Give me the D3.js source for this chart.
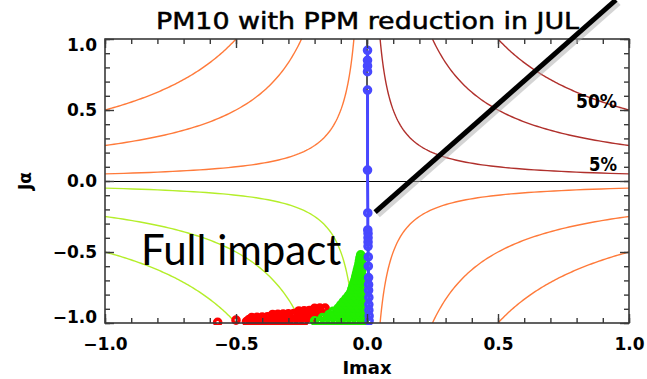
<!DOCTYPE html>
<html>
<head>
<meta charset="utf-8">
<script src="https://cdn.jsdelivr.net/npm/d3@7"></script>
<style>
  body { margin: 0; background: #fff; }
  svg { display: block; }
</style>
</head>
<body>
<svg id="chart" width="647" height="379"></svg>
<script>
// axis ticks
var majorTicks = [-1, -0.5, 0, 0.5, 1];
var minorTicks = d3.range(-10, 11).map(function(d) { return d / 10; });

// contour levels |Imax * Ja|
var levels = [0.05, 0.25, 0.5];
var levelLabels = [{level: 0.5, text: '50%', y: 0.57}, {level: 0.05, text: '5%', y: 0.13}];

// blue series (x, y)
var blueTop = [[0.002, 0.92], [0.002, 0.85], [0.002, 0.81], [0.002, 0.77]];
var blueMain = [[0.002, 0.64], [0.002, 0.077], [0.003, -0.225], [0.003, -0.345], [0.004, -0.37],
  [0.004, -0.40], [0.004, -0.43], [0.004, -0.46], [0.005, -0.535], [0.005, -0.60],
  [0.006, -0.68], [0.006, -0.73], [0.006, -0.77], [0.007, -0.82], [0.007, -0.87],
  [0.007, -0.91], [0.008, -0.95], [0.008, -0.985]];

// red series
var redPts = [[-0.57, -0.995], [-0.50, -0.98],
  [-0.46, -0.99], [-0.44, -0.99], [-0.42, -0.99], [-0.40, -0.99], [-0.38, -0.99],
  [-0.36, -0.99], [-0.34, -0.99], [-0.32, -0.99], [-0.30, -0.99], [-0.28, -0.99],
  [-0.26, -0.99], [-0.24, -0.99],
  [-0.45, -0.975], [-0.43, -0.974], [-0.41, -0.973], [-0.39, -0.972], [-0.37, -0.972],
  [-0.35, -0.971], [-0.33, -0.97], [-0.31, -0.97], [-0.29, -0.968], [-0.27, -0.968],
  [-0.25, -0.966], [-0.23, -0.966], [-0.21, -0.965],
  [-0.44, -0.962], [-0.42, -0.96], [-0.40, -0.958], [-0.38, -0.957], [-0.36, -0.956],
  [-0.34, -0.955], [-0.32, -0.954], [-0.30, -0.953], [-0.28, -0.952], [-0.26, -0.951],
  [-0.24, -0.95], [-0.22, -0.948], [-0.20, -0.947],
  [-0.36, -0.94], [-0.34, -0.938], [-0.32, -0.937], [-0.30, -0.935], [-0.28, -0.934],
  [-0.26, -0.932], [-0.24, -0.93], [-0.22, -0.93], [-0.20, -0.928], [-0.18, -0.927],
  [-0.26, -0.915], [-0.24, -0.914], [-0.22, -0.912], [-0.20, -0.91], [-0.18, -0.908], [-0.165, -0.905],
  [-0.20, -0.897], [-0.18, -0.895], [-0.16, -0.895]];

// green series
var greenPts = [
  [-0.20, -0.985], [-0.18, -0.985], [-0.16, -0.985], [-0.14, -0.985], [-0.12, -0.985], [-0.10, -0.985],
  [-0.08, -0.985], [-0.06, -0.985], [-0.04, -0.985], [-0.02, -0.985], [-0.01, -0.985],
  [-0.17, -0.962], [-0.15, -0.962], [-0.13, -0.962], [-0.11, -0.962], [-0.09, -0.962],
  [-0.07, -0.962], [-0.05, -0.962], [-0.03, -0.962], [-0.012, -0.962],
  [-0.145, -0.94], [-0.125, -0.94], [-0.105, -0.94], [-0.085, -0.94], [-0.065, -0.94],
  [-0.045, -0.94], [-0.025, -0.94], [-0.012, -0.94],
  [-0.13, -0.918], [-0.11, -0.918], [-0.09, -0.918], [-0.07, -0.918], [-0.05, -0.918], [-0.03, -0.918], [-0.012, -0.918],
  [-0.11, -0.895], [-0.09, -0.895], [-0.07, -0.895], [-0.05, -0.895], [-0.03, -0.895], [-0.013, -0.895],
  [-0.10, -0.872], [-0.08, -0.872], [-0.06, -0.872], [-0.04, -0.872], [-0.02, -0.872],
  [-0.09, -0.85], [-0.07, -0.85], [-0.05, -0.85], [-0.03, -0.85], [-0.015, -0.85],
  [-0.08, -0.828], [-0.06, -0.828], [-0.04, -0.828], [-0.02, -0.828],
  [-0.07, -0.806], [-0.05, -0.806], [-0.03, -0.806], [-0.015, -0.806],
  [-0.062, -0.784], [-0.042, -0.784], [-0.022, -0.784],
  [-0.058, -0.762], [-0.038, -0.762], [-0.018, -0.762],
  [-0.054, -0.74], [-0.034, -0.74], [-0.018, -0.74],
  [-0.05, -0.718], [-0.03, -0.718], [-0.018, -0.718],
  [-0.046, -0.696], [-0.026, -0.696],
  [-0.043, -0.674], [-0.024, -0.674],
  [-0.04, -0.652], [-0.022, -0.652],
  [-0.037, -0.63], [-0.02, -0.63],
  [-0.034, -0.608], [-0.02, -0.608],
  [-0.031, -0.586], [-0.02, -0.586],
  [-0.029, -0.564], [-0.02, -0.564],
  [-0.027, -0.542], [-0.02, -0.542],
  [-0.024, -0.52]];

// pointer line (data coords)
var pointer = [[0.031, -0.22], [0.95, 1.275]];

var svg = d3.select('#chart');
var x = d3.scaleLinear().domain([-1, 1]).range([105, 629]);
var y = d3.scaleLinear().domain([-1, 1]).range([323, 39]);

svg.append('defs').append('clipPath').attr('id', 'plot')
  .append('rect')
    .attr('x', x(-1)).attr('y', y(1))
    .attr('width', x(1) - x(-1)).attr('height', y(-1) - y(1) + 2);

var plot = svg.append('g').attr('clip-path', 'url(#plot)');

// contours, one per quadrant
var quads = [
  {sx: 1, sy: 1, color: '#b0302c'},
  {sx: -1, sy: 1, color: '#ff7a3a'},
  {sx: 1, sy: -1, color: '#ff7a3a'},
  {sx: -1, sy: -1, color: '#b4ee2a'}
];
var line = d3.line().x(function(d) { return x(d[0]); }).y(function(d) { return y(d[1]); });
quads.forEach(function(q) {
  levels.forEach(function(c) {
    var pts = d3.range(0, 81).map(function(i) {
      var xv = c * Math.pow(1 / c, i / 80);
      return [q.sx * xv, q.sy * c / xv];
    });
    plot.append('path')
      .attr('d', line(pts))
      .attr('fill', 'none')
      .attr('stroke', q.color)
      .attr('stroke-width', 1.4);
  });
});

// zero line
plot.append('line')
  .attr('x1', x(-1)).attr('x2', x(1))
  .attr('y1', y(0) + 0.5).attr('y2', y(0) + 0.5)
  .attr('stroke', '#000').attr('stroke-width', 1);
plot.append('line')
  .attr('x1', x(0)).attr('x2', x(0))
  .attr('y1', y(1)).attr('y2', y(0.47))
  .attr('stroke', '#222').attr('stroke-width', 1.5);

function drawPoints(data, color) {
  plot.append('g').selectAll('circle')
    .data(data)
    .enter()
    .append('circle')
      .attr('cx', function(d) { return x(d[0]); })
      .attr('cy', function(d) { return y(d[1]); })
      .attr('r', 3.1)
      .attr('fill', 'none')
      .attr('stroke', color)
      .attr('stroke-width', 3.4);
}

drawPoints(redPts, '#ff0000');
drawPoints(greenPts, '#22ee00');

var blue = '#4848ff';
[blueTop, blueMain].forEach(function(seg) {
  plot.append('path')
    .attr('d', line(seg))
    .attr('fill', 'none')
    .attr('stroke', blue)
    .attr('stroke-width', 3);
});
drawPoints(blueTop.concat(blueMain), blue);

// frame
svg.append('rect')
  .attr('x', x(-1)).attr('y', y(1))
  .attr('width', x(1) - x(-1)).attr('height', y(-1) - y(1))
  .attr('fill', 'none').attr('stroke', '#3a3a3a').attr('stroke-width', 1.6);

function fmt(d) { return d3.format('.1f')(d).replace('-', '\u2212'); }

function styleAxis(g) {
  g.select('.domain').remove();
  g.selectAll('line').attr('stroke', '#3a3a3a').attr('stroke-width', 1.4);
  g.selectAll('text')
    .attr('font-family', 'DejaVu Sans')
    .attr('font-weight', 'bold')
    .attr('font-size', 17)
    .attr('fill', '#000');
}

// bottom
svg.append('g').attr('transform', 'translate(0,' + y(-1) + ')')
  .call(d3.axisBottom(x).tickValues(minorTicks).tickSize(-5).tickFormat(''))
  .call(styleAxis);
svg.append('g').attr('transform', 'translate(0,' + y(-1) + ')')
  .call(d3.axisBottom(x).tickValues(majorTicks).tickSize(-9).tickPadding(15).tickFormat(fmt))
  .call(styleAxis);
// top
svg.append('g').attr('transform', 'translate(0,' + y(1) + ')')
  .call(d3.axisTop(x).tickValues(minorTicks).tickSize(-5).tickFormat(''))
  .call(styleAxis);
svg.append('g').attr('transform', 'translate(0,' + y(1) + ')')
  .call(d3.axisTop(x).tickValues(majorTicks).tickSize(-9).tickFormat(''))
  .call(styleAxis);
// left
svg.append('g').attr('transform', 'translate(' + x(-1) + ',0)')
  .call(d3.axisLeft(y).tickValues(minorTicks).tickSize(-5).tickFormat(''))
  .call(styleAxis);
var leftMajor = svg.append('g').attr('transform', 'translate(' + x(-1) + ',0)')
  .call(d3.axisLeft(y).tickValues(majorTicks).tickSize(-9).tickPadding(8).tickFormat(fmt))
  .call(styleAxis);
leftMajor.selectAll('.tick text')
  .attr('dy', function(d) { return d === 1 ? '0.7em' : (d === -1 ? '-0.05em' : '0.32em'); });
// right
svg.append('g').attr('transform', 'translate(' + x(1) + ',0)')
  .call(d3.axisRight(y).tickValues(minorTicks).tickSize(-5).tickFormat(''))
  .call(styleAxis);
svg.append('g').attr('transform', 'translate(' + x(1) + ',0)')
  .call(d3.axisRight(y).tickValues(majorTicks).tickSize(-9).tickFormat(''))
  .call(styleAxis);

// axis titles
svg.append('text')
  .attr('x', x(0)).attr('y', 374)
  .attr('text-anchor', 'middle')
  .attr('font-family', 'DejaVu Sans').attr('font-weight', 'bold').attr('font-size', 18)
  .text('Imax');
svg.append('text')
  .attr('transform', 'translate(31,' + y(0) + ') rotate(-90)')
  .attr('text-anchor', 'middle')
  .attr('font-family', 'DejaVu Sans').attr('font-weight', 'bold').attr('font-size', 17)
  .text('J\u03b1');

// title
svg.append('text')
  .attr('x', 156).attr('y', 29)
  .attr('textLength', 423).attr('lengthAdjust', 'spacingAndGlyphs')
  .attr('font-family', 'DejaVu Sans').attr('font-size', 23)
  .attr('stroke', '#000').attr('stroke-width', 0.5)
  .text('PM10 with PPM reduction in JUL');

// contour labels
levelLabels.forEach(function(l) {
  svg.append('text')
    .attr('x', x(1) - 12).attr('y', y(l.y) + 8)
    .attr('text-anchor', 'end')
    .attr('font-family', 'DejaVu Sans').attr('font-weight', 'bold').attr('font-size', 19)
    .attr('textLength', l.text === '50%' ? 41 : 28).attr('lengthAdjust', 'spacingAndGlyphs')
    .text(l.text);
});

// annotation
svg.append('text')
  .attr('x', 141).attr('y', 265)
  .attr('font-family', 'Lato').attr('font-size', 42)
  .attr('fill', '#000')
  .text('Full impact');

svg.append('line')
  .attr('x1', x(pointer[0][0]) + 2).attr('y1', y(pointer[0][1]) + 2)
  .attr('x2', x(pointer[1][0]) + 2).attr('y2', y(pointer[1][1]) + 2)
  .attr('stroke', '#aaa').attr('stroke-opacity', 0.5).attr('stroke-width', 8);
svg.append('line')
  .attr('x1', x(pointer[0][0])).attr('y1', y(pointer[0][1]))
  .attr('x2', x(pointer[1][0])).attr('y2', y(pointer[1][1]))
  .attr('stroke', '#000').attr('stroke-width', 5);
</script>
</body>
</html>
